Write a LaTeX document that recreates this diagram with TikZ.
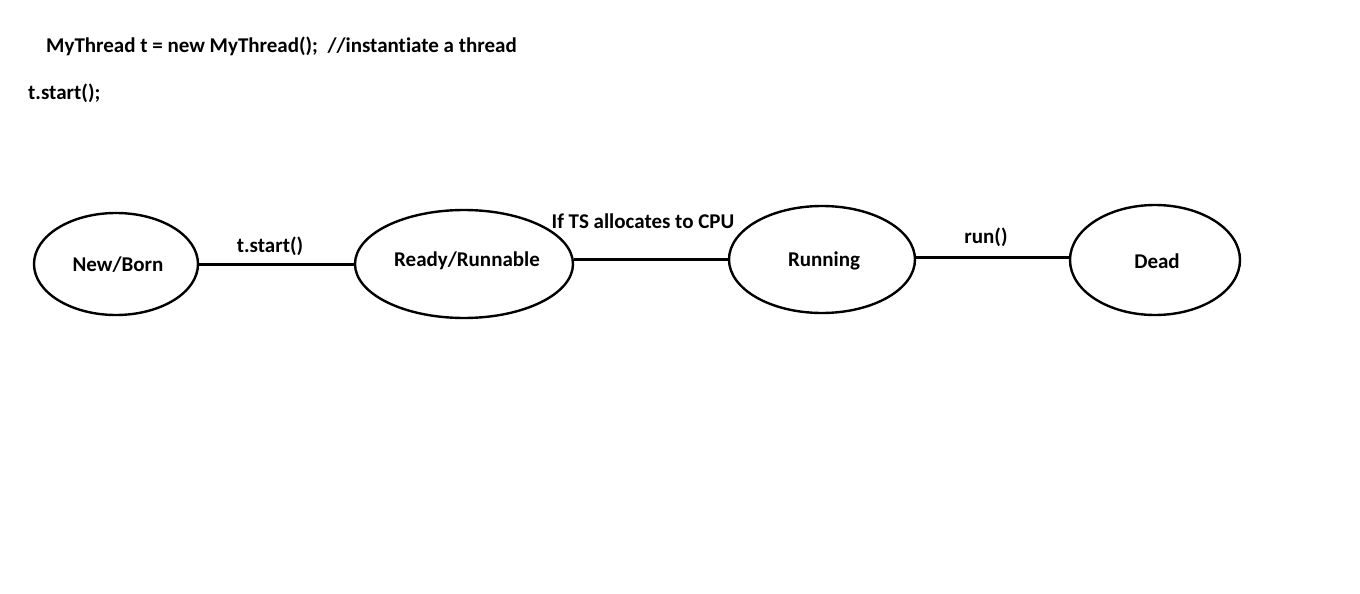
\documentclass[tikz,border=0pt]{standalone}
\usepackage{fontspec}
\setmainfont{Carlito}[Ligatures=NoCommon]
\usetikzlibrary{shapes.geometric}
\tikzset{
  state/.style={ellipse, draw, line width=2.4pt, inner sep=0pt},
  conn/.style={line width=3pt},
  lbl/.style={inner sep=0pt},
}
\begin{document}
\begin{tikzpicture}[x=1pt,y=-1pt,font=\fontsize{21}{25}\selectfont\bfseries]
\useasboundingbox[fill=white] (0,0) rectangle (1360,594);
\node[lbl, anchor=west] (code1) at (46,46) {MyThread t = new MyThread();\ \ //instantiate a thread};
\node[lbl, anchor=west] (code2) at (28,93) {t.start();};

\node[state, minimum width=164pt, minimum height=102pt] (nb) at (116,264) {};
\node[state, minimum width=218pt, minimum height=108pt] (rr) at (464,264) {};
\node[state, minimum width=186pt, minimum height=107pt] (ru) at (822,259.5) {};
\node[state, minimum width=170pt, minimum height=110pt] (de) at (1155,260) {};

\node[lbl] (tnb) at (118,265) {New/Born};
\node[lbl] (trr) at (467,261) {Ready/Runnable};
\node[lbl] (tru) at (824,261) {Running};
\node[lbl] (tde) at (1157,261) {Dead};

\draw[conn] (nb.east) -- (rr.west);
\draw[conn] (ru.west -| rr.east) -- (ru.west);
\draw[conn] ([yshift=2.5pt]ru.east) -- ([yshift=2.5pt]ru.east -| de.west);

\node[lbl] (l1) at (270,246) {t.start()};
\node[lbl] (l2) at (643,221) {If TS allocates to CPU};
\node[lbl] (l3) at (986,237) {run()};
\end{tikzpicture}
\end{document}
